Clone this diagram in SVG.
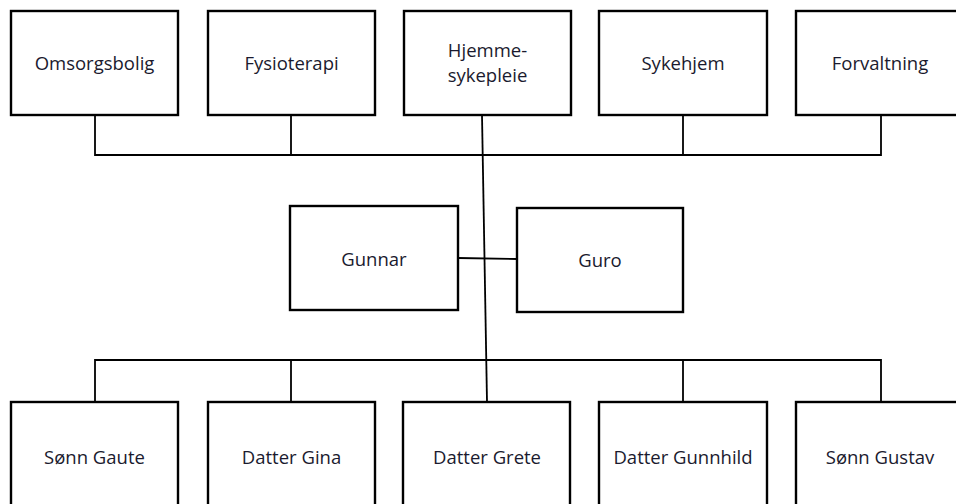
<svg xmlns="http://www.w3.org/2000/svg" width="956" height="504" viewBox="0 0 956 504">
  <style>
    .box { fill: #fff; stroke: #000; stroke-width: 2.4; }
    .wire { fill: none; stroke: #000; stroke-width: 1.8; }
    .label { font-family: "Open Sans", "Liberation Sans", sans-serif; font-size: 18.5px; fill: #1a1a2e; text-anchor: middle; }
  </style>
  <rect width="956" height="504" fill="#fff"/>

  <!-- connectors -->
  <g id="connectors">
    <polyline class="wire" points="95,115 95,155 881,155 881,115"/>
    <line class="wire" x1="291" y1="115" x2="291" y2="155"/>
    <line class="wire" x1="683" y1="115" x2="683" y2="155"/>
    <line class="wire" x1="482" y1="115" x2="487" y2="402"/>
    <line class="wire" x1="458" y1="258" x2="517" y2="259"/>
    <polyline class="wire" points="95,402 95,360 881,360 881,402"/>
    <line class="wire" x1="291" y1="360" x2="291" y2="402"/>
    <line class="wire" x1="683" y1="360" x2="683" y2="402"/>
  </g>

  <!-- top row -->
  <g id="omsorgsbolig">
    <rect class="box" x="11" y="11" width="167" height="104"/>
    <text class="label" x="94.5" y="70">Omsorgsbolig</text>
  </g>
  <g id="fysioterapi">
    <rect class="box" x="208" y="11" width="167" height="104"/>
    <text class="label" x="291.5" y="70">Fysioterapi</text>
  </g>
  <g id="hjemmesykepleie">
    <rect class="box" x="404" y="11" width="167" height="104"/>
    <text class="label" x="487.5" y="57">Hjemme-</text>
    <text class="label" x="487.5" y="82">sykepleie</text>
  </g>
  <g id="sykehjem">
    <rect class="box" x="599" y="11" width="168" height="104"/>
    <text class="label" x="683" y="70">Sykehjem</text>
  </g>
  <g id="forvaltning">
    <rect class="box" x="796" y="11" width="168" height="104"/>
    <text class="label" x="880" y="70">Forvaltning</text>
  </g>

  <!-- parents -->
  <g id="gunnar">
    <rect class="box" x="290" y="206" width="168" height="104"/>
    <text class="label" x="374" y="266">Gunnar</text>
  </g>
  <g id="guro">
    <rect class="box" x="517" y="208" width="166" height="104"/>
    <text class="label" x="600" y="267">Guro</text>
  </g>

  <!-- children -->
  <g id="sonn-gaute">
    <rect class="box" x="11" y="402" width="167" height="110"/>
    <text class="label" x="94.5" y="464">Sønn Gaute</text>
  </g>
  <g id="datter-gina">
    <rect class="box" x="208" y="402" width="167" height="110"/>
    <text class="label" x="291.5" y="464">Datter Gina</text>
  </g>
  <g id="datter-grete">
    <rect class="box" x="403" y="402" width="167" height="110"/>
    <text class="label" x="487" y="464">Datter Grete</text>
  </g>
  <g id="datter-gunnhild">
    <rect class="box" x="599" y="402" width="168" height="110"/>
    <text class="label" x="683" y="464">Datter Gunnhild</text>
  </g>
  <g id="sonn-gustav">
    <rect class="box" x="796" y="402" width="168" height="110"/>
    <text class="label" x="880" y="464">Sønn Gustav</text>
  </g>
</svg>
